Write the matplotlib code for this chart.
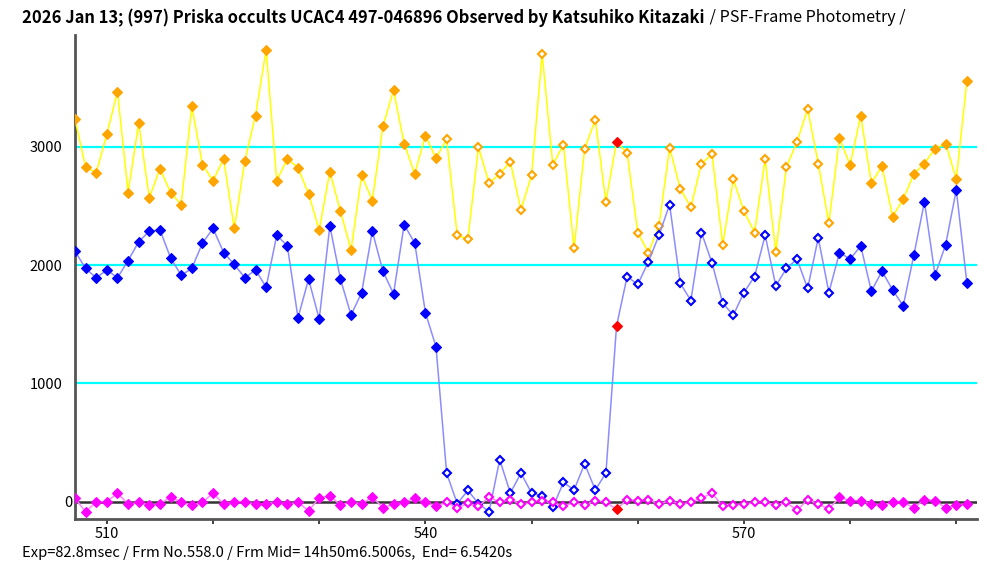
import matplotlib
matplotlib.use("Agg")
import matplotlib.pyplot as plt
import numpy as np

# ---- data ----
frames = list(range(507, 592))
orange = [3232, 2827, 2782, 3105, 3466, 2613, 3198, 2568, 2815, 2613,
          2511, 3345, 2849, 2714, 2897, 2309, 2883, 3263, 3818, 2714,
          2897, 2824, 2601, 2297, 2790, 2455, 2128, 2759, 2545, 3173,
          3477, 3026, 2770, 3094, 2903, 3063, 2252, 2218, 2995, 2691,
          2770, 2872, 2466, 2759, 3784, 2846, 3018, 2140, 2984, 3229,
          2534, 3043, 2948, 2275, 2106, 2331, 2993, 2646, 2489, 2858,
          2936, 2173, 2725, 2455, 2275, 2894, 2109, 2827, 3041, 3319,
          2858, 2354, 3071, 2846, 3263, 2691, 2838, 2410, 2556, 2770,
          2858, 2984, 3026, 2725, 3556]
blue = [2117, 1971, 1892, 1959, 1892, 2038, 2196, 2286, 2297, 2061,
        1914, 1971, 2185, 2309, 2106, 2005, 1892, 1959, 1813, 2252,
        2162, 1554, 1881, 1543, 2331, 1881, 1577, 1768, 2286, 1948,
        1757, 2342, 2185, 1599, 1309, 242, -17, 96, -17, -84,
        355, 73, 242, 73, 51, -48, 163, 99, 321, 99,
        242, 1483, 1903, 1836, 2027, 2252, 2511, 1847, 1700, 2275,
        2016, 1678, 1577, 1768, 1903, 2252, 1824, 1971, 2050, 1802,
        2230, 1768, 2106, 2050, 2162, 1779, 1948, 1791, 1655, 2083,
        2534, 1914, 2173, 2635, 1847]
magenta = [31, -87, 0, 0, 73, -20, -6, -28, -20, 42,
           -6, -28, -6, 73, -20, 0, 0, -20, -20, 0,
           -20, -6, -76, 31, 51, -28, 0, -20, 42, -51,
           -20, -6, 31, -6, -39, -6, -51, -15, -39, 42,
           -6, 17, -20, -6, 8, -6, -39, -6, -28, 8,
           -6, -62, 17, 8, 17, -20, 8, -20, -6, 31,
           73, -39, -28, -20, -6, -6, -28, -6, -73, 17,
           -20, -62, 39, 8, 8, -20, -28, -6, -6, -51,
           17, 8, -51, -28, -20]
window_start, window_end = 542, 578   # hollow-marker frames
current_frame = 558                   # red marker frame
hlines = [1000, 2000, 3000]
xticks = [510, 520, 530, 540, 550, 560, 570, 580, 590]
xticklabels = ["510", "", "", "540", "", "", "570", "", ""]
yticks = [0, 1000, 2000, 3000]
yticklabels = ["0", "1000", "2000", "3000"]

title_bold = "2026 Jan 13; (997) Priska occults UCAC4 497-046896 Observed by Katsuhiko Kitazaki"
title_norm = " / PSF-Frame Photometry /"
footer = "Exp=82.8msec / Frm No.558.0 / Frm Mid= 14h50m6.5006s,  End= 6.5420s"

FONT = ["Noto Sans CJK JP", "DejaVu Sans"]
plt.rcParams['font.family'] = FONT

fig = plt.figure(figsize=(9.87, 5.63), dpi=100)
ax = fig.add_axes([75/987, 1-519/563, (977-75)/987, (519-35)/563])

x = np.array(frames)
series = [
    (np.array(orange), "#FFFF00", "#FFA500"),
    (np.array(blue), "#8C8CFF", "#0000FF"),
    (np.array(magenta), "#FF88FF", "#FF00FF"),
]

for h in hlines:
    ax.axhline(h, color="#00FFFF", lw=1.6, zorder=1)
ax.axhline(0, color="#333333", lw=1.8, zorder=1)

inside = (x >= window_start) & (x <= window_end) & (x != current_frame)
outside = ~((x >= window_start) & (x <= window_end))
red = x == current_frame

ms = 4.6
for i, (y, lc, mc) in enumerate(series):
    z = 3 + i
    ax.plot(x, y, color=lc, lw=1.1, zorder=z)
    ax.plot(x[outside], y[outside], ls="none", marker="D", ms=ms,
            mfc=mc, mec=mc, mew=0.8, zorder=z + 0.1)
    ax.plot(x[inside], y[inside], ls="none", marker="D", ms=ms - 0.7,
            mfc="white", mec=mc, mew=1.5, zorder=z + 0.1)
    ax.plot(x[red], y[red], ls="none", marker="D", ms=ms,
            mfc="#FF0000", mec="#FF0000", mew=0.8, zorder=z + 0.2)

ax.set_xlim(507, 591.95)
ax.set_ylim(-146, 3944)
ax.set_xticks(xticks)
ax.set_xticklabels(xticklabels)
ax.set_yticks(yticks)
ax.set_yticklabels(yticklabels)

for s in ["top", "right"]:
    ax.spines[s].set_visible(False)
for s in ["left", "bottom"]:
    ax.spines[s].set_color("#555555")
    ax.spines[s].set_linewidth(2.0)

ax.tick_params(axis="x", direction="out", length=3.5, width=1.3,
               color="#333333", pad=2, labelsize=10.5, labelcolor="black")
ax.tick_params(axis="y", length=0, pad=9, labelsize=10.5, labelcolor="black")
ax.yaxis.get_major_ticks()[0].set_pad(2)

t1 = fig.text(22/987, 1-18/563, title_bold, fontsize=11.9, fontweight="bold",
              ha="left", va="center", family=FONT)
fig.canvas.draw()
bb = t1.get_window_extent()
fig.text((bb.x1 + 2)/987, 1-18/563, title_norm, fontsize=11.6, ha="left",
         va="center", family=FONT)
fig.text(22/987, 1-553/563, footer, fontsize=10.6, ha="left", va="center",
         family=FONT)

fig.savefig("out.png", dpi=100)
